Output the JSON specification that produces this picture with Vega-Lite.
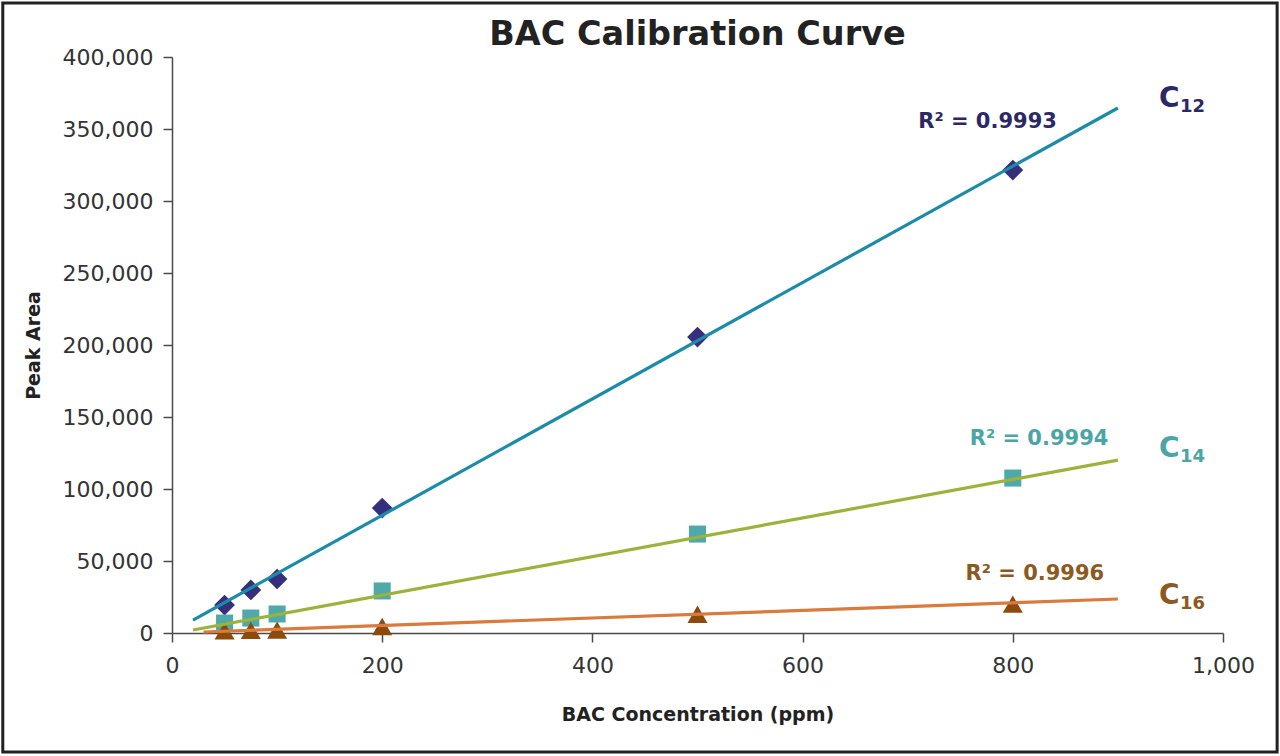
{
  "$schema": "https://vega.github.io/schema/vega-lite/v6.json",
  "width": 1051,
  "height": 576,
  "autosize": {"type": "none"},
  "padding": {"left": 172, "top": 57, "right": 57, "bottom": 123},
  "background": "white",
  "config": {
    "view": {"stroke": null},
    "font": "DejaVu Sans",
    "axis": {
      "grid": false,
      "domainColor": "#4a4a4a",
      "domainWidth": 1.5,
      "tickColor": "#4a4a4a",
      "tickWidth": 1.5,
      "tickSize": 9,
      "labelFlush": false,
      "labelFont": "DejaVu Sans",
      "labelFontSize": 22,
      "labelColor": "#333333",
      "titleFont": "DejaVu Sans",
      "titleFontSize": 19,
      "titleFontWeight": "bold",
      "titleColor": "#222222"
    }
  },
  "title": {
    "text": "BAC Calibration Curve",
    "font": "DejaVu Sans",
    "fontSize": 33.5,
    "fontWeight": "bold",
    "color": "#222222",
    "anchor": "middle",
    "frame": "group",
    "offset": -51
  },
  "datasets": {
    "points": [
      {"series": "C12", "conc": 50, "area": 19400},
      {"series": "C12", "conc": 75, "area": 29900},
      {"series": "C12", "conc": 100, "area": 37500},
      {"series": "C12", "conc": 200, "area": 86800},
      {"series": "C12", "conc": 500, "area": 205500},
      {"series": "C12", "conc": 800, "area": 321500},
      {"series": "C14", "conc": 50, "area": 6900},
      {"series": "C14", "conc": 75, "area": 10400},
      {"series": "C14", "conc": 100, "area": 13200},
      {"series": "C14", "conc": 200, "area": 29200},
      {"series": "C14", "conc": 500, "area": 68700},
      {"series": "C14", "conc": 800, "area": 107600},
      {"series": "C16", "conc": 50, "area": 1500},
      {"series": "C16", "conc": 75, "area": 1800},
      {"series": "C16", "conc": 100, "area": 2000},
      {"series": "C16", "conc": 200, "area": 4500},
      {"series": "C16", "conc": 500, "area": 13000},
      {"series": "C16", "conc": 800, "area": 20100}
    ],
    "fits": [
      {"series": "C12", "conc": 20, "area": 9000},
      {"series": "C12", "conc": 900, "area": 364600},
      {"series": "C14", "conc": 20, "area": 2100},
      {"series": "C14", "conc": 900, "area": 120100},
      {"series": "C16", "conc": 30, "area": 700},
      {"series": "C16", "conc": 900, "area": 23600}
    ],
    "labels": [
      {"series": "C12", "r2": "R² = 0.9993", "rx": 776, "ry": 350700, "cx": 939, "cy": 365300, "sub": "12"},
      {"series": "C14", "r2": "R² = 0.9994", "rx": 825, "ry": 130600, "cx": 939, "cy": 122200, "sub": "14"},
      {"series": "C16", "r2": "R² = 0.9996", "rx": 821, "ry": 36800, "cx": 939, "cy": 20100, "sub": "16"}
    ]
  },
  "encoding": {
    "x": {
      "type": "quantitative",
      "scale": {"domain": [0, 1000], "nice": false},
      "axis": {"values": [0, 200, 400, 600, 800, 1000], "format": ",d", "title": "BAC Concentration (ppm)", "titlePadding": 29, "labelPadding": 13}
    },
    "y": {
      "type": "quantitative",
      "scale": {"domain": [0, 400000], "nice": false},
      "axis": {"values": [0, 50000, 100000, 150000, 200000, 250000, 300000, 350000, 400000], "format": ",d", "title": "Peak Area", "titlePadding": 19, "labelPadding": 10}
    }
  },
  "layer": [
    {
      "data": {"values": [{}]},
      "mark": {"type": "rect", "clip": false, "fill": "transparent", "stroke": "#222222", "strokeWidth": 3},
      "encoding": {
        "x": {"datum": -161},
        "x2": {"datum": 1051.5},
        "y": {"datum": -82600},
        "y2": {"datum": 437500}
      }
    },
    {
      "data": {"name": "points"},
      "transform": [{"filter": "datum.series === 'C12'"}],
      "mark": {"type": "point", "shape": "diamond", "size": 430, "filled": true, "opacity": 1, "color": "#352f7c", "clip": false},
      "encoding": {
        "x": {"field": "conc"},
        "y": {"field": "area"}
      }
    },
    {
      "data": {"name": "points"},
      "transform": [{"filter": "datum.series === 'C14'"}],
      "mark": {"type": "point", "shape": "square", "size": 290, "filled": true, "opacity": 1, "color": "#4fa9aa", "clip": false},
      "encoding": {
        "x": {"field": "conc"},
        "y": {"field": "area"}
      }
    },
    {
      "data": {"name": "points"},
      "transform": [{"filter": "datum.series === 'C16'"}],
      "mark": {"type": "point", "shape": "triangle-up", "size": 400, "filled": true, "opacity": 1, "color": "#8c4a0c", "clip": false},
      "encoding": {
        "x": {"field": "conc"},
        "y": {"field": "area"}
      }
    },
    {
      "data": {"name": "fits"},
      "mark": {"type": "line", "strokeWidth": 3.2},
      "encoding": {
        "x": {"field": "conc"},
        "y": {"field": "area"},
        "detail": {"field": "series"},
        "stroke": {
          "field": "series", "type": "nominal", "legend": null,
          "scale": {"domain": ["C12", "C14", "C16"], "range": ["#1c8baa", "#9cb33b", "#da7a3c"]}
        }
      }
    },
    {
      "data": {"name": "labels"},
      "mark": {"type": "text", "fontSize": 21, "fontWeight": "bold", "align": "center", "baseline": "alphabetic"},
      "encoding": {
        "x": {"field": "rx"},
        "y": {"field": "ry"},
        "text": {"field": "r2"},
        "fill": {
          "field": "series", "type": "nominal", "legend": null,
          "scale": {"domain": ["C12", "C14", "C16"], "range": ["#2b2866", "#4ba5a5", "#8a5a1e"]}
        }
      }
    },
    {
      "data": {"name": "labels"},
      "mark": {"type": "text", "fontSize": 28, "fontWeight": "bold", "align": "left", "baseline": "alphabetic"},
      "encoding": {
        "x": {"field": "cx"},
        "y": {"field": "cy"},
        "text": {"value": "C"},
        "fill": {"field": "series", "type": "nominal", "legend": null}
      }
    },
    {
      "data": {"name": "labels"},
      "mark": {"type": "text", "fontSize": 18, "fontWeight": "bold", "align": "left", "baseline": "alphabetic", "dx": 21, "dy": 5},
      "encoding": {
        "x": {"field": "cx"},
        "y": {"field": "cy"},
        "text": {"field": "sub"},
        "fill": {"field": "series", "type": "nominal", "legend": null}
      }
    }
  ]
}
